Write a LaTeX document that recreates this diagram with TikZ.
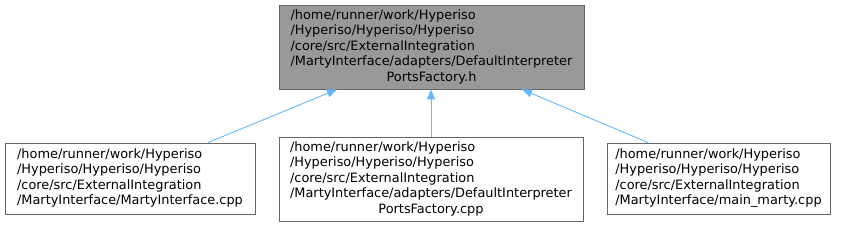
\documentclass[tikz,border=0pt]{standalone}
\usepackage{fontspec}
\setmainfont{DejaVu Sans}
\usetikzlibrary{arrows.meta}
\definecolor{edgeblue}{HTML}{63B8FF}
\definecolor{boxborder}{HTML}{666666}
\definecolor{topfill}{HTML}{999999}
\tikzset{
  filebox/.style={draw=boxborder, line width=0.9pt, fill=white, inner sep=0pt,
    font=\fontsize{12.9}{15.5}\selectfont},
  topbox/.style={filebox, fill=topfill},
  dep/.style={draw=edgeblue, line width=0.9pt, -{Triangle[length=10pt,width=8pt]}}
}
\newcommand{\lastc}[1]{\multicolumn{1}{@{}c@{}}{#1}}
\begin{document}
\begin{tikzpicture}[x=1pt,y=1pt]
\useasboundingbox (0,0) rectangle (844,227);
\node[topbox, minimum width=305pt, minimum height=84pt] (top) at (431.5,180)
 {\begin{tabular}{@{}l@{}}/home/runner/work/Hyperiso\\/Hyperiso/Hyperiso/Hyperiso\\/core/src/ExternalIntegration\\/MartyInterface/adapters/DefaultInterpreter\\\lastc{PortsFactory.h}\end{tabular}};
\node[filebox, minimum width=250pt, minimum height=71pt] (l) at (130,48.5)
 {\begin{tabular}{@{}l@{}}/home/runner/work/Hyperiso\\/Hyperiso/Hyperiso/Hyperiso\\/core/src/ExternalIntegration\\/MartyInterface/MartyInterface.cpp\end{tabular}};
\node[filebox, minimum width=304pt, minimum height=84pt] (m) at (431,48)
 {\begin{tabular}{@{}l@{}}/home/runner/work/Hyperiso\\/Hyperiso/Hyperiso/Hyperiso\\/core/src/ExternalIntegration\\/MartyInterface/adapters/DefaultInterpreter\\\lastc{PortsFactory.cpp}\end{tabular}};
\node[filebox, minimum width=223pt, minimum height=71pt] (r) at (718.5,48.5)
 {\begin{tabular}{@{}l@{}}/home/runner/work/Hyperiso\\/Hyperiso/Hyperiso/Hyperiso\\/core/src/ExternalIntegration\\/MartyInterface/main\_marty.cpp\end{tabular}};
\draw[dep] ([xshift=78pt]l.north) -- ([xshift=-94.5pt]top.south);
\draw[dep] (m.north) -- ([xshift=-0.5pt]top.south);
\draw[dep] ([xshift=-70.5pt]r.north) -- ([xshift=90.5pt]top.south);
\end{tikzpicture}
\end{document}
